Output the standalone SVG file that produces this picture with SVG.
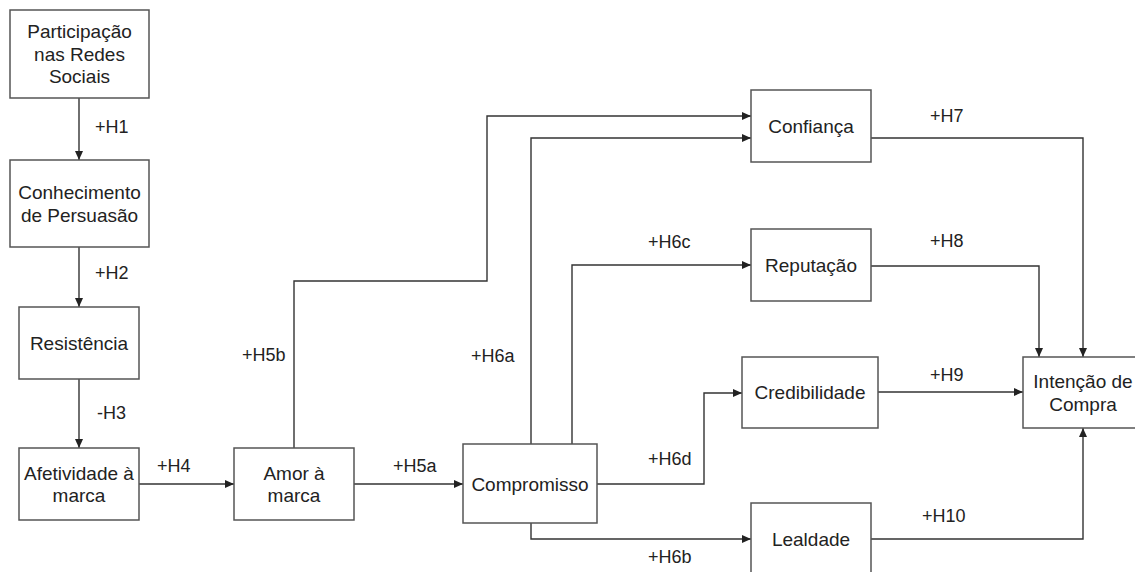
<svg xmlns="http://www.w3.org/2000/svg" width="1135" height="572" viewBox="0 0 1135 572">
<style>
.box{fill:#fff;stroke:#555;stroke-width:1.5}
.t{font-family:"Liberation Sans",Arial,sans-serif;font-size:19px;fill:#222;text-anchor:middle}
.l{font-family:"Liberation Sans",Arial,sans-serif;font-size:18px;fill:#222}
.c{fill:none;stroke:#333;stroke-width:1.4}
</style>
<defs>
<marker id="ah" markerWidth="10" markerHeight="10" refX="9" refY="5" orient="auto" markerUnits="userSpaceOnUse">
<path d="M0,1 L9,5 L0,9 Z" fill="#222"/>
</marker>
</defs>
<rect width="1135" height="572" fill="#fff"/>
<g id="connectors">
<path class="c" d="M79,98 V160" marker-end="url(#ah)"/>
<path class="c" d="M79,247 V307" marker-end="url(#ah)"/>
<path class="c" d="M79,379 V448" marker-end="url(#ah)"/>
<path class="c" d="M139,484 H234" marker-end="url(#ah)"/>
<path class="c" d="M354,484 H463" marker-end="url(#ah)"/>
<path class="c" d="M294,448 V281 H487 V116 H751" marker-end="url(#ah)"/>
<path class="c" d="M531,444 V138 H751" marker-end="url(#ah)"/>
<path class="c" d="M572,444 V265 H751" marker-end="url(#ah)"/>
<path class="c" d="M597,484 H704 V393 H742" marker-end="url(#ah)"/>
<path class="c" d="M531,523 V539 H751" marker-end="url(#ah)"/>
<path class="c" d="M871,138 H1083 V357" marker-end="url(#ah)"/>
<path class="c" d="M871,266 H1039 V357" marker-end="url(#ah)"/>
<path class="c" d="M878,392 H1023" marker-end="url(#ah)"/>
<path class="c" d="M871,539 H1083 V428" marker-end="url(#ah)"/>
<text class="l" x="95" y="133">+H1</text>
<text class="l" x="95" y="279">+H2</text>
<text class="l" x="97" y="419">-H3</text>
<text class="l" x="157" y="472">+H4</text>
<text class="l" x="393" y="472">+H5a</text>
<text class="l" x="242" y="361">+H5b</text>
<text class="l" x="471" y="362">+H6a</text>
<text class="l" x="648" y="248">+H6c</text>
<text class="l" x="648" y="465">+H6d</text>
<text class="l" x="648" y="563">+H6b</text>
<text class="l" x="930" y="122">+H7</text>
<text class="l" x="930" y="247">+H8</text>
<text class="l" x="930" y="381">+H9</text>
<text class="l" x="922" y="522">+H10</text>
</g>
<g id="participacao"><rect class="box" x="10" y="10" width="139" height="88"/><text class="t" x="79.5" y="38">Participação</text><text class="t" x="79.5" y="61">nas Redes</text><text class="t" x="79.5" y="83">Sociais</text></g>
<g id="conhecimento"><rect class="box" x="10" y="160" width="139" height="87"/><text class="t" x="79.5" y="199">Conhecimento</text><text class="t" x="79.5" y="222">de Persuasão</text></g>
<g id="resistencia"><rect class="box" x="19" y="307" width="120" height="72"/><text class="t" x="79" y="350">Resistência</text></g>
<g id="afetividade"><rect class="box" x="19" y="448" width="120" height="72"/><text class="t" x="79" y="480">Afetividade à</text><text class="t" x="79" y="502">marca</text></g>
<g id="amor"><rect class="box" x="234" y="448" width="120" height="72"/><text class="t" x="294" y="480">Amor à</text><text class="t" x="294" y="502">marca</text></g>
<g id="compromisso"><rect class="box" x="463" y="444" width="134" height="79"/><text class="t" x="530" y="491">Compromisso</text></g>
<g id="confianca"><rect class="box" x="751" y="90" width="120" height="72"/><text class="t" x="811" y="133">Confiança</text></g>
<g id="reputacao"><rect class="box" x="751" y="229" width="120" height="72"/><text class="t" x="811" y="272">Reputação</text></g>
<g id="credibilidade"><rect class="box" x="742" y="357" width="136" height="71"/><text class="t" x="810" y="399">Credibilidade</text></g>
<g id="intencao"><rect class="box" x="1023" y="357" width="122" height="71"/><text class="t" x="1083" y="388">Intenção de</text><text class="t" x="1083" y="411">Compra</text></g>
<g id="lealdade"><rect class="box" x="751" y="503" width="120" height="75"/><text class="t" x="811" y="546">Lealdade</text></g>
</svg>
